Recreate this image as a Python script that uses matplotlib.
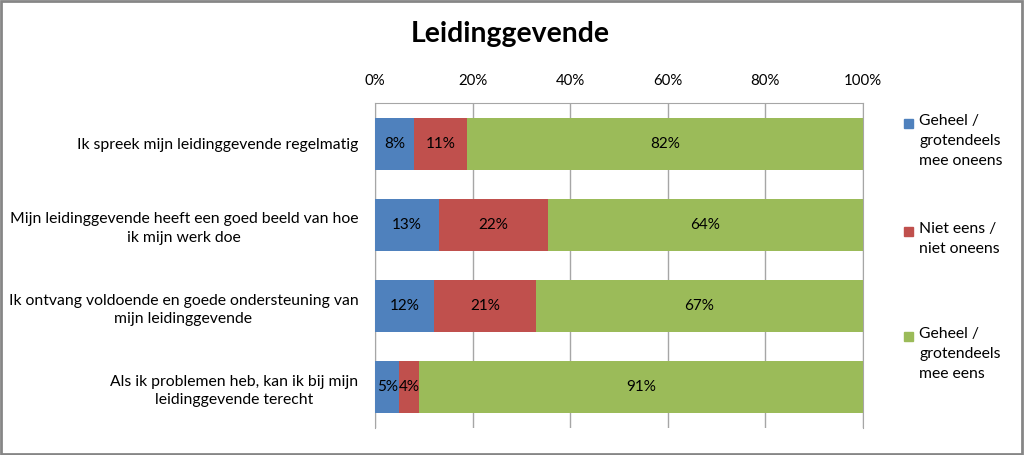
import numpy as np
import matplotlib

matplotlib.use('Agg')
import matplotlib.pyplot as plt
from matplotlib.patches import Rectangle

plt.rcParams['font.family'] = ['Lato', 'DejaVu Sans']

# data (percentages as shown in the data labels)
questions = ['Ik spreek mijn leidinggevende regelmatig',
             'Mijn leidinggevende heeft een goed beeld van hoe\nik mijn werk doe',
             'Ik ontvang voldoende en goede ondersteuning van\nmijn leidinggevende',
             'Als ik problemen heb, kan ik bij mijn\nleidinggevende terecht']
oneens = [8, 13, 12, 5]
neutraal = [11, 22, 21, 4]
eens = [82, 64, 67, 91]
series_names = ['Geheel /\ngrotendeels\nmee oneens', 'Niet eens /\nniet oneens', 'Geheel /\ngrotendeels\nmee eens']
colors = ['#4F81BD', '#C0504D', '#9BBB59']
xticks = [0, 20, 40, 60, 80, 100]

fig = plt.figure(figsize=(10.24, 4.55), dpi=100)
ax = fig.add_axes([375 / 1024, 1 - 428 / 455, 488 / 1024, 325 / 455])

data = np.array([oneens, neutraal, eens], dtype=float)
totals = data.sum(axis=0)
shares = data / totals * 100  # 100% stacked like excel

y = np.arange(len(questions))
left = np.zeros(len(questions))
for i in range(3):
    bars = ax.barh(y, shares[i], left=left, height=0.64, color=colors[i], zorder=3)
    for j, b in enumerate(bars):
        ax.text(left[j] + shares[i][j] / 2, y[j], '%d%%' % data[i][j],
                ha='center', va='center', fontsize=11, color='black', zorder=4)
    left += shares[i]

ax.set_xlim(0, 100)
ax.set_ylim(len(questions) - 0.5, -0.5)
ax.set_xticks(xticks)
ax.set_xticklabels(['%d%%' % t for t in xticks], fontsize=10.8)
ax.xaxis.tick_top()
ax.tick_params(axis='x', length=0, pad=11)
ax.tick_params(axis='y', length=0, pad=12)
ax.set_yticks(y)
ax.set_yticklabels(questions, fontsize=11.3, multialignment='center', linespacing=1.4)
ax.grid(axis='x', color='#A6A6A6', linewidth=1, zorder=0)
for s in ['top', 'left', 'right']:
    ax.spines[s].set_color('#A6A6A6')
ax.spines['bottom'].set_visible(False)

fig.text(510 / 1024, 1 - 34 / 455, 'Leidinggevende', ha='center', va='center',
         fontsize=20.4, fontweight='bold')

# legend, drawn by hand so the markers sit at the first line
leg_tops = [114, 222, 327]
for i in range(3):
    fig.patches.append(Rectangle((904 / 1024, 1 - (leg_tops[i] + 14) / 455), 9 / 1024, 9 / 455,
                                 transform=fig.transFigure, color=colors[i]))
    fig.text(919 / 1024, 1 - leg_tops[i] / 455, series_names[i], ha='left', va='top',
             fontsize=11.3, linespacing=1.55)

fig.patches.append(Rectangle((0.001, 0.002), 0.997, 0.995, transform=fig.transFigure,
                             fill=False, edgecolor='#868686', linewidth=2))

plt.savefig('out.png', dpi=100)
